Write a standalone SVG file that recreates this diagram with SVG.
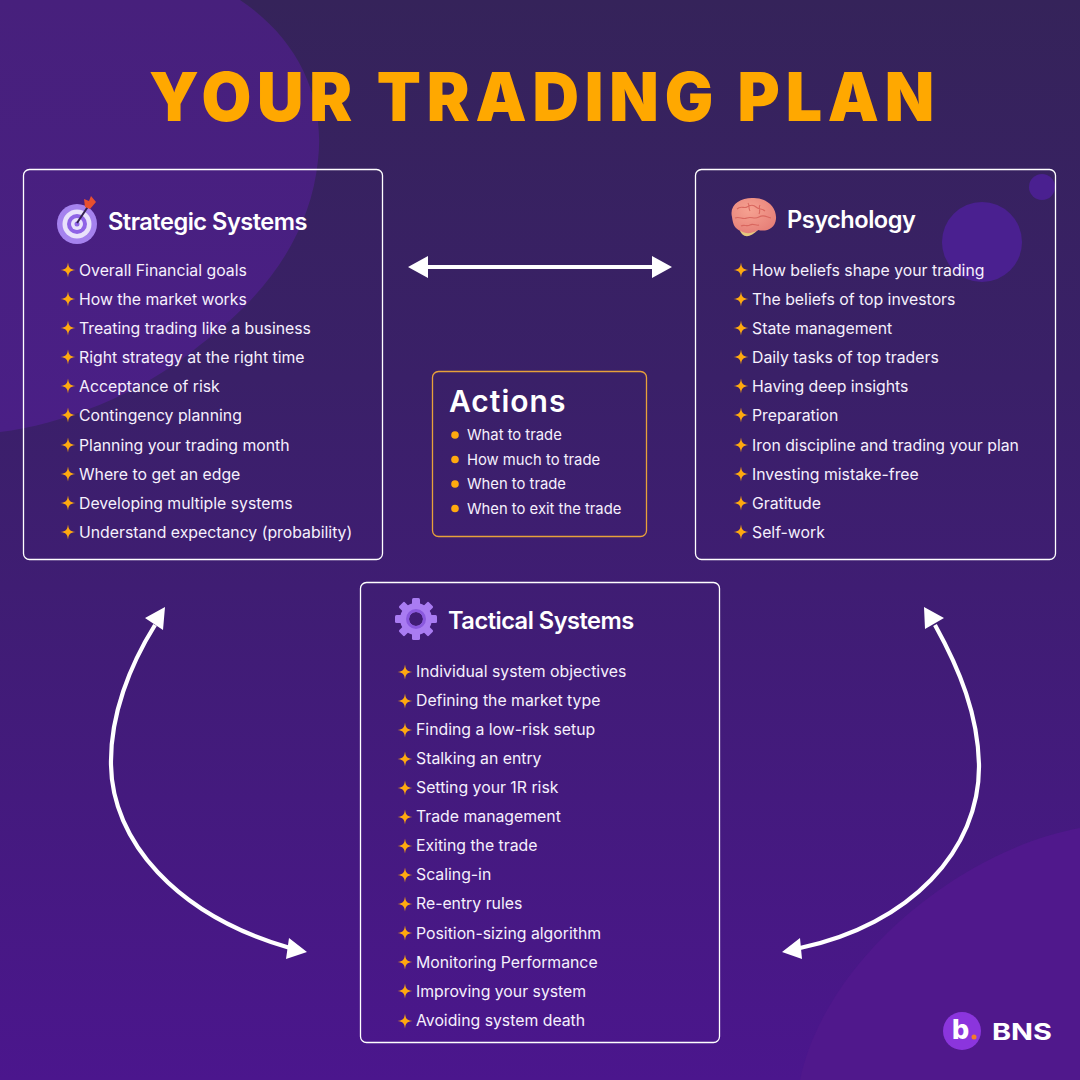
<svg xmlns="http://www.w3.org/2000/svg" width="1080" height="1080" viewBox="0 0 1080 1080">
<defs>
<linearGradient id="bg" x1="0" y1="0" x2="0" y2="1"><stop offset="0" stop-color="#35235a"/><stop offset="0.35" stop-color="#3a2068"/><stop offset="1" stop-color="#4b168d"/></linearGradient>
<linearGradient id="tl" x1="0" y1="0" x2="0" y2="1"><stop offset="0" stop-color="#47207c"/><stop offset="1" stop-color="#4a1f86"/></linearGradient>
<radialGradient id="ball" cx="0.4" cy="0.35" r="0.7"><stop offset="0" stop-color="#f6a291"/><stop offset="1" stop-color="#e67f78"/></radialGradient>
<path id="s" d="M0-7.500C.7-2 2-.7 7.500 0 2 .7.700 2 0 7.500-.7 2-2 .7-7.500 0-2-.7-.7-2 0-7.500Z" fill="#ffa90f"/>
</defs>
<style>
.box{fill:none;stroke:#fff;stroke-width:1.3}
.h{font:600 23.6px Inter,"Liberation Sans",sans-serif;fill:#fff;letter-spacing:-.5px}
.t{font:400 15.8px Inter,"Liberation Sans",sans-serif;fill:#f6f0fd}
.u{font-size:14.8px}
.a{fill:none;stroke:#fff;stroke-width:4.2}
.ah{fill:#fff}
.d{fill:#ffa90f}
.g{fill:#a97cf2}
</style>
<rect width="1080" height="1080" fill="url(#bg)"/>
<path d="M0 0H240C300 40 325 100 318 160C310 240 260 300 200 345C140 395 60 425 0 432Z" fill="url(#tl)"/>
<path d="M800 1080C825 960 960 850 1080 828V1080Z" fill="#50188c"/>
<circle cx="982" cy="242" r="40" fill="#4a2090"/>
<circle cx="1042" cy="187" r="13" fill="#4a2090"/>
<text transform="translate(149 121) scale(.96 1)" textLength="818" style="font:900 67px Inter,'Liberation Sans',sans-serif" fill="#ffa800">YOUR TRADING PLAN</text>

<g id="connectors">
<path class="a" d="M425 267H655"/><path class="ah" d="M408 267L428 256V278ZM672 267L652 256V278Z"/>
<path class="a" d="M155 625C130 665 110 715 111 765C112 840 175 915 290 948"/><path class="ah" d="M165 607L145 618L163 630ZM307 952L289 938L286 959Z"/>
<path class="a" d="M935 625C960 670 978 715 979 765C980 850 910 925 800 948"/><path class="ah" d="M924 607L925 629L944 618ZM782 952L800 938L802 959Z"/>
</g>

<g id="strategic">
<rect class="box" x="23.500" y="169.500" width="359" height="390" rx="6"/>
<g id="target-icon"><circle cx="77" cy="224" r="20" fill="#a582ee"/><circle cx="77" cy="224" r="14.500" fill="#e9e2fb"/><circle cx="77" cy="224" r="10" fill="#8f63e6"/><circle cx="77" cy="224" r="6" fill="#e9e2fb"/><circle cx="77" cy="224" r="2.500" fill="#8f63e6"/><path d="M77 223L89 205" stroke="#33204f" stroke-width="2"/><path d="M85 207L84 199 89 201 91 196 96 202 90 209Z" fill="#e8502f"/></g>
<text class="h" x="108" y="230">Strategic Systems</text>
<g id="strategic-items" transform="translate(0 .6)">
<use href="#s" x="68" y="269.400"/><text class="t" x="79" y="275">Overall Financial goals</text>
<use href="#s" x="68" y="298.400"/><text class="t" x="79" y="304">How the market works</text>
<use href="#s" x="68" y="327.400"/><text class="t" x="79" y="333">Treating trading like a business</text>
<use href="#s" x="68" y="356.400"/><text class="t" x="79" y="362">Right strategy at the right time</text>
<use href="#s" x="68" y="385.400"/><text class="t" x="79" y="391">Acceptance of risk</text>
<use href="#s" x="68" y="414.400"/><text class="t" x="79" y="420.300">Contingency planning</text>
<use href="#s" x="68" y="444.400"/><text class="t" x="79" y="450">Planning your trading month</text>
<use href="#s" x="68" y="473.400"/><text class="t" x="79" y="479">Where to get an edge</text>
<use href="#s" x="68" y="502.400"/><text class="t" x="79" y="508">Developing multiple systems</text>
<use href="#s" x="68" y="531.400"/><text class="t" x="79" y="537">Understand expectancy (probability)</text>
</g></g>

<g id="psychology">
<rect class="box" x="695.500" y="169.500" width="360" height="390" rx="6"/>
<g id="brain-icon"><path d="M739 228C742 239 750 238 758 230Z" fill="#e6c97e"/><path d="M732 217C729 205 740 198 752 198C766 197 777 207 776 219C775 229 766 232 758 230C752 234 745 234 741 231C735 229 733 225 732 217Z" fill="url(#ball)"/><path d="M737 209c4-4 7 0 10-2s6-3 9 0 6 1 9 4M735 218c5-2 7 2 12 0s7 2 12-1 7 0 12 1M741 226c3-2 6 1 9-1s6 1 9 0M748 203c2 3 0 5 2 8M760 205c-2 3 1 6-1 9" fill="none" stroke="#d9675f" stroke-width="1.100"/></g>
<text class="h" x="787" y="228">Psychology</text>
<g id="psychology-items" transform="translate(0 .6)">
<use href="#s" x="741" y="269.400"/><text class="t" x="752" y="275">How beliefs shape your trading</text>
<use href="#s" x="741" y="298.400"/><text class="t" x="752" y="304">The beliefs of top investors</text>
<use href="#s" x="741" y="327.400"/><text class="t" x="752" y="333">State management</text>
<use href="#s" x="741" y="356.400"/><text class="t" x="752" y="362">Daily tasks of top traders</text>
<use href="#s" x="741" y="385.400"/><text class="t" x="752" y="391">Having deep insights</text>
<use href="#s" x="741" y="414.400"/><text class="t" x="752" y="420.300">Preparation</text>
<use href="#s" x="741" y="444.400"/><text class="t" x="752" y="450">Iron discipline and trading your plan</text>
<use href="#s" x="741" y="473.400"/><text class="t" x="752" y="479">Investing mistake-free</text>
<use href="#s" x="741" y="502.400"/><text class="t" x="752" y="508">Gratitude</text>
<use href="#s" x="741" y="531.400"/><text class="t" x="752" y="537">Self-work</text>
</g></g>

<g id="actions">
<rect x="432.500" y="371.500" width="214" height="165" rx="6" fill="none" stroke="#e8a13a" stroke-width="1.300"/>
<text x="449" y="412" style="font:600 30px Inter,'Liberation Sans',sans-serif;letter-spacing:1px" fill="#fff">Actions</text>
<circle class="d" cx="455" cy="435" r="3.800"/><text class="t u" x="467" y="440">What to trade</text>
<circle class="d" cx="455" cy="459.500" r="3.800"/><text class="t u" x="467" y="465">How much to trade</text>
<circle class="d" cx="455" cy="484" r="3.800"/><text class="t u" x="467" y="489">When to trade</text>
<circle class="d" cx="455" cy="508.500" r="3.800"/><text class="t u" x="467" y="514">When to exit the trade</text>
</g>

<g id="tactical">
<rect class="box" x="360.500" y="582.500" width="359" height="460" rx="6"/>
<g id="gear-icon" transform="translate(416 619)"><circle r="11.500" fill="none" stroke="#a97cf2" stroke-width="9"/><circle r="8.500" fill="none" stroke="#8a58de" stroke-width="3"/>
<rect class="g" x="-4" y="-21" width="8" height="8" rx="1.500"/><rect class="g" x="-4" y="-21" width="8" height="8" rx="1.500" transform="rotate(45)"/><rect class="g" x="-4" y="-21" width="8" height="8" rx="1.500" transform="rotate(90)"/><rect class="g" x="-4" y="-21" width="8" height="8" rx="1.500" transform="rotate(135)"/><rect class="g" x="-4" y="-21" width="8" height="8" rx="1.500" transform="rotate(180)"/><rect class="g" x="-4" y="-21" width="8" height="8" rx="1.500" transform="rotate(225)"/><rect class="g" x="-4" y="-21" width="8" height="8" rx="1.500" transform="rotate(270)"/><rect class="g" x="-4" y="-21" width="8" height="8" rx="1.500" transform="rotate(315)"/></g>
<text class="h" x="448" y="629">Tactical Systems</text>
<g id="tactical-items">
<use href="#s" x="405" y="672"/><text class="t" x="416" y="677">Individual system objectives</text>
<use href="#s" x="405" y="701"/><text class="t" x="416" y="706">Defining the market type</text>
<use href="#s" x="405" y="730"/><text class="t" x="416" y="735">Finding a low-risk setup</text>
<use href="#s" x="405" y="759"/><text class="t" x="416" y="764">Stalking an entry</text>
<use href="#s" x="405" y="788"/><text class="t" x="416" y="793">Setting your 1R risk</text>
<use href="#s" x="405" y="817"/><text class="t" x="416" y="822">Trade management</text>
<use href="#s" x="405" y="846"/><text class="t" x="416" y="851">Exiting the trade</text>
<use href="#s" x="405" y="875"/><text class="t" x="416" y="880">Scaling-in</text>
<use href="#s" x="405" y="904"/><text class="t" x="416" y="909">Re-entry rules</text>
<use href="#s" x="405" y="933"/><text class="t" x="416" y="939">Position-sizing algorithm</text>
<use href="#s" x="405" y="962"/><text class="t" x="416" y="968">Monitoring Performance</text>
<use href="#s" x="405" y="991"/><text class="t" x="416" y="997">Improving your system</text>
<use href="#s" x="405" y="1021"/><text class="t" x="416" y="1026">Avoiding system death</text>
</g></g>

<g id="logo">
<circle cx="962" cy="1031" r="19" fill="#8b35dd"/>
<text x="952" y="1039" style="font:800 27px Inter,'Liberation Sans',sans-serif" fill="#fff">b</text>
<circle cx="974" cy="1037" r="2.500" fill="#f47b2a"/>
<text x="992" y="1040" textLength="60" lengthAdjust="spacingAndGlyphs" style="font:700 23.500px Inter,'Liberation Sans',sans-serif" fill="#fff">BNS</text>
</g>
</svg>
